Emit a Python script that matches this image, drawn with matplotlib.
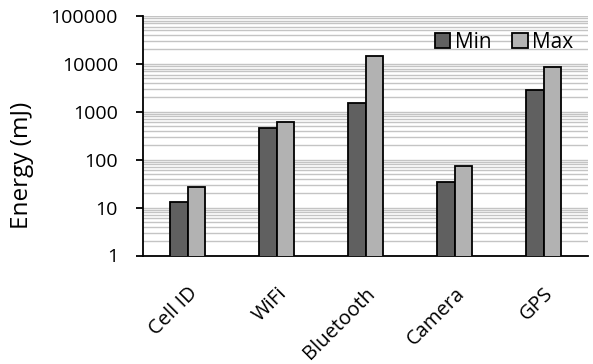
import matplotlib
matplotlib.use('Agg')
import matplotlib.pyplot as plt
from matplotlib.ticker import LogLocator, NullFormatter, FixedLocator
import numpy as np

categories = ['Cell ID', 'WiFi', 'Bluetooth', 'Camera', 'GPS']
min_energy = [13, 470, 1550, 34.5, 2800]
max_energy = [27, 615, 14400, 74, 8500]

plt.rcParams['font.family'] = ['Open Sans', 'DejaVu Sans']

fig = plt.figure(figsize=(5.93, 3.64), dpi=100)
ax = fig.add_axes([143 / 593, 1 - 255.5 / 364, (588 - 143) / 593, (255.5 - 16) / 364])

x = np.arange(len(categories))
w = 0.2
ax.bar(x - w / 2, min_energy, w, color='#606060', edgecolor='black', linewidth=1.3, label='Min', zorder=3)
ax.bar(x + w / 2, max_energy, w, color='#b2b2b2', edgecolor='black', linewidth=1.3, label='Max', zorder=3)

ax.set_yscale('log')
ax.set_ylim(1, 100000)
ax.set_xlim(-0.5, len(categories) - 0.5)
ax.yaxis.set_major_locator(FixedLocator([1, 10, 100, 1000, 10000, 100000]))
ax.set_yticklabels(['1', '10', '100', '1000', '10000', '100000'])
ax.yaxis.set_minor_locator(LogLocator(base=10, subs=np.arange(2, 10)))
ax.yaxis.set_minor_formatter(NullFormatter())
ax.grid(which='both', axis='y', color='#c4c4c4', linewidth=1.0, zorder=0)

ax.set_xticks(x)
ax.set_xticklabels(categories, rotation=45, ha='right', va='top', rotation_mode='anchor')
ax.tick_params(axis='x', length=0, pad=20, labelsize=14.5)
ax.tick_params(axis='y', which='major', length=5, width=1.3, labelsize=14, pad=13)
ax.tick_params(axis='y', which='minor', length=0)

for side in ['top', 'right']:
    ax.spines[side].set_visible(False)
for side in ['left', 'bottom']:
    ax.spines[side].set_linewidth(1.3)

fig.text(22 / 593, 1 - 165 / 364, 'Energy (mJ)', rotation=90, fontsize=17.5,
         ha='center', va='center')
ax.legend(loc='upper right', ncol=2, frameon=False, fontsize=15, handlelength=0.75,
          handleheight=0.75, handletextpad=0.2, columnspacing=1.0,
          bbox_to_anchor=(573 / 593, 1 - 32 / 364), bbox_transform=fig.transFigure,
          borderaxespad=0, borderpad=0)

fig.savefig('out.png', dpi=100)
